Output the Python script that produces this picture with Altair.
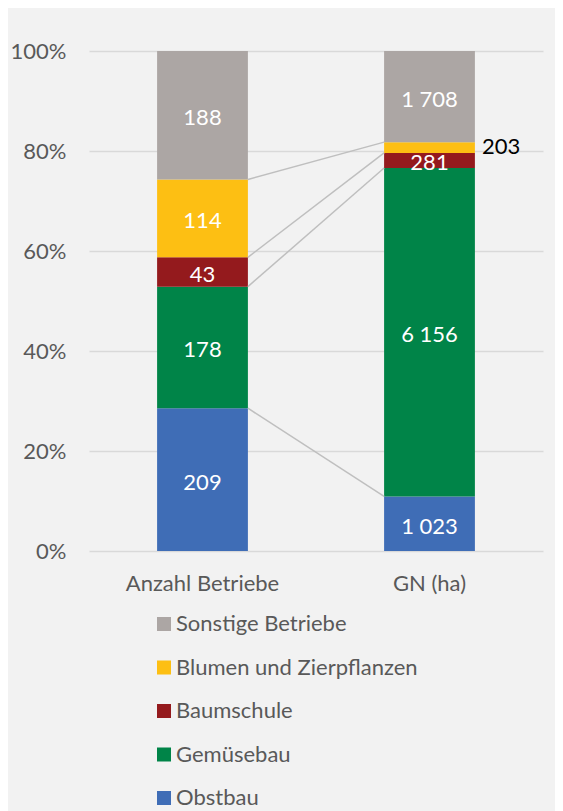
import altair as alt
import pandas as pd

categories = ["Anzahl Betriebe", "GN (ha)"]
series = ["Obstbau", "Gemüsebau", "Baumschule", "Blumen und Zierpflanzen", "Sonstige Betriebe"]
values_betriebe = [209, 178, 43, 114, 188]
values_gn = [1023, 6156, 281, 203, 1708]
colors = ["#3f6db6", "#008448", "#941a1d", "#fdbf13", "#aca6a4"]
outside_labels = [("GN (ha)", "Blumen und Zierpflanzen")]

FONT = "Lato"
FS = 22

rows = []
for cat, vals in zip(categories, [values_betriebe, values_gn]):
    total = sum(vals)
    cum = 0
    for i, (s, v) in enumerate(zip(series, vals)):
        y0 = cum / total
        cum += v
        y1 = cum / total
        rows.append({
            "cat": cat, "series": s, "order": i, "value": v,
            "y0": y0, "y1": y1, "ymid": (y0 + y1) / 2,
            "label": f"{v:,}".replace(",", " "),
            "outside": (cat, s) in outside_labels,
        })
df = pd.DataFrame(rows)

# series lines between top of each segment (except last)
lines = []
for i, s in enumerate(series[:-1]):
    a = df[(df.cat == categories[0]) & (df.series == s)].iloc[0]
    b = df[(df.cat == categories[1]) & (df.series == s)].iloc[0]
    lines.append({"c1": categories[0], "c2": categories[1], "v1": a.y1, "v2": b.y1})
ldf = pd.DataFrame(lines)

xscale = alt.Scale(domain=categories, paddingInner=0.6, paddingOuter=0.3)
yscale = alt.Scale(domain=[0, 1])
legend_order = list(reversed(series))
cscale = alt.Scale(domain=legend_order, range=list(reversed(colors)))

base = alt.Chart(df)

bars = base.mark_bar().encode(
    x=alt.X("cat:N", scale=xscale, sort=categories,
            axis=alt.Axis(title=None, labelAngle=0, domain=False, ticks=False,
                          labelPadding=22, labelFontSize=FS, labelColor="#595959",
                          labelFont=FONT, grid=False)),
    y=alt.Y("y1:Q", scale=yscale,
            axis=alt.Axis(title=None, format=".0%", values=[0, 0.2, 0.4, 0.6, 0.8, 1.0],
                          domain=False, ticks=False, labelPadding=23, labelFontSize=FS,
                          labelColor="#595959", labelFont=FONT, grid=True,
                          gridColor="#d9d9d9", gridWidth=1.3)),
    y2="y0:Q",
    color=alt.Color("series:N", scale=cscale,
                    legend=alt.Legend(title=None, orient="none", legendX=64, legendY=562,
                                      direction="vertical", symbolType="square",
                                      symbolSize=196, symbolStrokeWidth=0,
                                      labelFontSize=FS, labelFont=FONT, labelLimit=400,
                                      labelColor="#595959", rowPadding=21.5,
                                      labelOffset=1, padding=0)),
)

rules = alt.Chart(ldf).mark_rule(color="#bfbfbf", strokeWidth=1.5).encode(
    x=alt.X("c1:N", scale=xscale, bandPosition=1),
    x2=alt.X2("c2", bandPosition=0),
    y=alt.Y("v1:Q", scale=yscale),
    y2="v2:Q",
)

inside = base.transform_filter("!datum.outside").mark_text(
    color="white", fontSize=FS, font=FONT, baseline="middle", align="center", dy=3
).encode(
    x=alt.X("cat:N", scale=xscale),
    y=alt.Y("ymid:Q", scale=yscale),
    text="label:N",
)

outside = base.transform_filter("datum.outside").mark_text(
    color="black", fontSize=FS, font=FONT, baseline="middle", align="left", dx=7, dy=-1
).encode(
    x=alt.X("cat:N", scale=xscale, bandPosition=1),
    y=alt.Y("ymid:Q", scale=yscale),
    text="label:N",
)

chart = alt.layer(bars, rules, inside, outside).properties(
    width=454, height=500,
    autosize=alt.AutoSizeParams(type="none"),
    padding={"left": 81, "top": 43, "right": 12, "bottom": 260},
    background="#f2f2f2",
).configure_view(stroke=None)

chart.save("out.html", embed_options={"renderer": "svg", "actions": False})
